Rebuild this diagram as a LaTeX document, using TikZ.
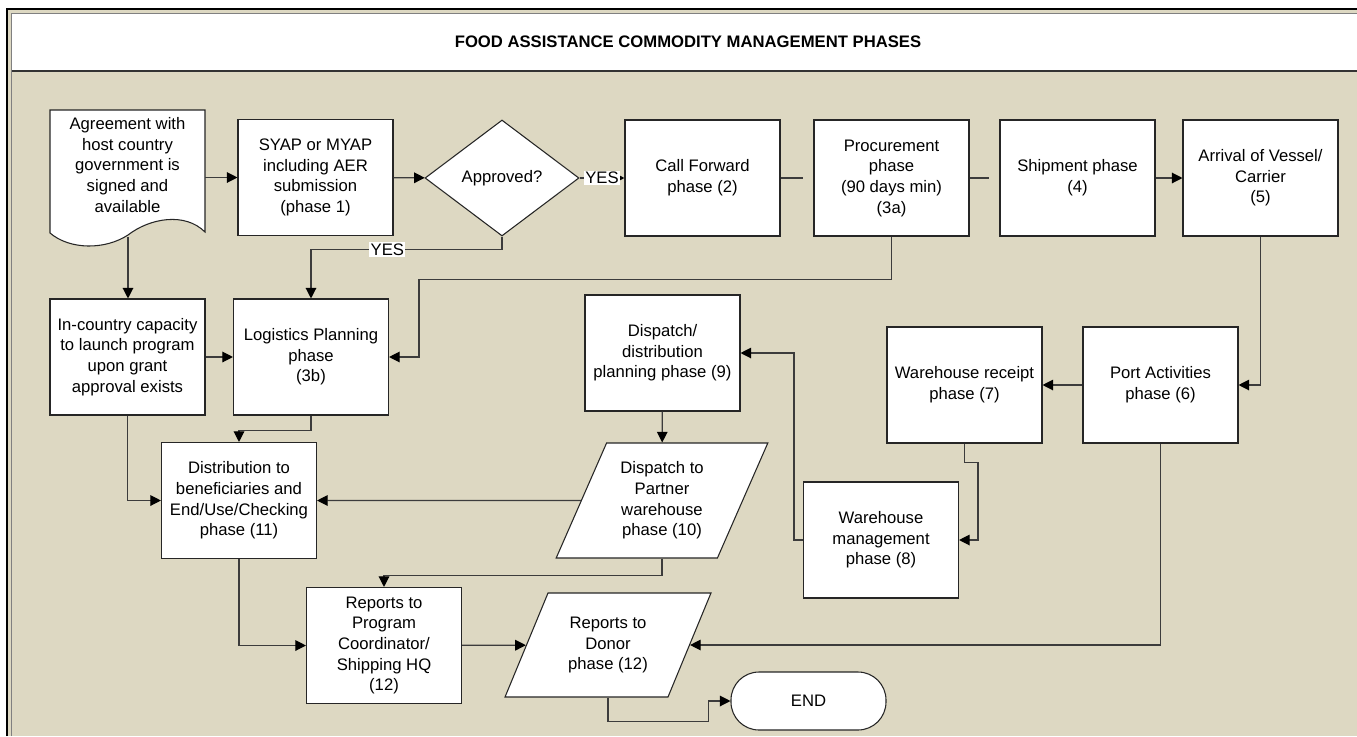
\documentclass[tikz,border=0pt]{standalone}
\usepackage{fontspec}
\setmainfont{Liberation Sans}
\usetikzlibrary{shapes.geometric,arrows.meta,calc}
\definecolor{framebg}{HTML}{DDD8C2}
\definecolor{linegray}{HTML}{3C3C3C}
\newcommand{\phasefont}{\fontsize{12.5}{15.5}\selectfont}
\begin{document}
\begin{tikzpicture}[x=0.75pt,y=-0.75pt,
	phase/.style={draw=black!85,fill=white,line width=0.8pt,minimum width=116.25pt,minimum height=87pt,inner sep=1pt,align=center,font=\phasefont},
	para/.style={phase,trapezium,trapezium left angle=64,trapezium right angle=116,trapezium stretches=true,minimum width=159pt,minimum height=86.25pt},
	conn/.style={draw=linegray,line width=0.9pt},
	arrw/.style={conn,-{Triangle[length=8pt,width=8pt,color=black]}},
	yes/.style={fill=white,inner sep=1pt,font=\phasefont}]
	\useasboundingbox (0,0) rectangle (1357,736);
	\fill[white] (0,0) rectangle (1357,736);
	\fill[framebg] (7,9) rectangle (1357,736);
	\draw[black,line width=1.2pt] (7,736) -- (7,9) -- (1357,9);
	\draw[gray,line width=0.6pt] (11.5,736) -- (11.5,13.5) -- (1357,13.5);
	\fill[white] (12,14) rectangle (1357,71);
	\draw[black!80,line width=0.9pt] (12,71) -- (1357,71);
	\node[font=\bfseries\phasefont] (title) at (688,42) {FOOD ASSISTANCE COMMODITY MANAGEMENT PHASES};

	\draw[draw=black!85,fill=white,line width=0.8pt] (50,110) -- (205,110) -- (205,232) .. controls (185,212) and (150,218) .. (128,235) .. controls (105,250) and (70,250) .. (50,233) -- cycle;
	\node[align=center,font=\phasefont,minimum width=116.25pt,inner sep=1pt] (agree) at (127.5,165) {Agreement with\\host country\\government is\\signed and\\available};
	\coordinate (agreebot) at (128,237);
	\node[phase] (syap) at (315.5,177.5) {SYAP or MYAP\\including AER\\submission\\(phase 1)};
	\node[phase,diamond,minimum width=115.5pt,minimum height=87pt] (appr) at (502,178) {Approved?};
	\node[phase] (cf) at (702.5,178) {Call Forward\\phase (2)};
	\node[phase] (proc) at (891.5,178) {Procurement\\phase\\(90 days min)\\(3a)};
	\node[phase] (ship) at (1077.5,178) {Shipment phase\\(4)};
	\node[phase] (arrival) at (1260.5,178) {Arrival of Vessel/\\Carrier\\(5)};
	\node[phase] (incap) at (127.5,357) {In-country capacity\\to launch program\\upon grant\\approval exists};
	\node[phase] (logi) at (311,357) {Logistics Planning\\phase\\(3b)};
	\node[phase] (plan9) at (662.5,353) {Dispatch/\\distribution\\planning phase (9)};
	\node[phase] (wr7) at (964.5,385) {Warehouse receipt\\phase (7)};
	\node[phase] (port6) at (1160.5,385) {Port Activities\\phase (6)};
	\node[phase] (wm8) at (881,540) {Warehouse\\management\\phase (8)};
	\node[phase] (dist11) at (239,500.5) {Distribution to\\beneficiaries and\\End/Use/Checking\\phase (11)};
	\node[para] (disp10) at (662,500.5) {Dispatch to\\Partner\\warehouse\\phase (10)};
	\node[phase] (rp12) at (384,645.5) {Reports to\\Program\\Coordinator/\\Shipping HQ\\(12)};
	\node[para,trapezium left angle=63.4,trapezium right angle=116.6,minimum width=154.5pt,minimum height=78pt] (donor12) at (608,645) {Reports to\\Donor\\phase (12)};
	\node[phase,rounded corners=21pt,minimum height=43.5pt] (endn) at (808.5,701) {END};

	\draw[arrw] (agree.east |- syap.west) -- (syap.west);
	\draw[arrw] (syap) -- (appr);
	\draw[arrw] (appr) -- node[yes] {YES} (cf);
	\draw[arrw] (appr.south) -- ++(0,13) -| node[yes,pos=0.3] {YES} (logi.north);
	\draw[conn,shorten >=7.5pt] (cf) -- (proc);
	\draw[conn,shorten >=7.5pt] (proc) -- (ship);
	\draw[arrw] (ship) -- (arrival);
	\draw[arrw] (proc.south) -- ++(0,43) -| ($(logi.east)+(30,0)$) -- (logi.east);
	\draw[arrw] (arrival.south) |- (port6.east);
	\draw[arrw] (port6) -- (wr7);
	\draw[arrw] (wr7.south) -- ++(0,19) -| ($(wm8.east)+(19,0)$) -- (wm8.east);
	\draw[arrw] (wm8.west) -- ++(-9,0) |- (plan9.east);
	\draw[arrw] (plan9) -- (disp10);
	\draw[arrw] (disp10) -- (dist11);
	\draw[arrw] (agreebot) -- (agreebot |- incap.north);
	\draw[arrw] (incap) -- (logi);
	\draw[arrw] (logi.south) -- ++(0,15) -| (dist11.north);
	\draw[arrw] (incap.south) |- (dist11.west);
	\draw[arrw] (disp10.south) -- ++(0,17) -| (rp12.north);
	\draw[arrw] (dist11.south) |- (rp12.west);
	\draw[arrw] (rp12) -- (donor12);
	\draw[arrw] (port6.south) |- (donor12);
	\draw[arrw] (donor12.south) -- ++(0,24) -| ($(endn.west)+(-22,0)$) -- (endn.west);
\end{tikzpicture}
\end{document}
